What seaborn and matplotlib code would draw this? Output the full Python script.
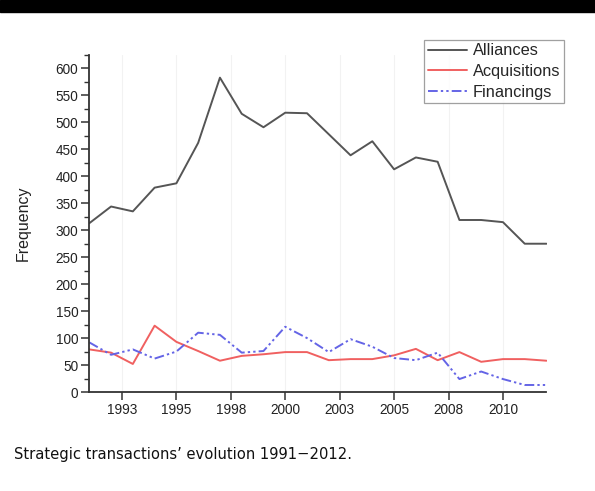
import matplotlib
matplotlib.use("Agg")
import matplotlib.pyplot as plt
import matplotlib.patches as mpatches
from matplotlib.ticker import MultipleLocator, FixedLocator
import seaborn as sns
import pandas as pd

years = list(range(1991, 2013))
alliances = [313, 344, 335, 379, 387, 462, 583, 516, 491, 518, 517, 478, 439, 465,
             413, 435, 427, 319, 319, 315, 275, 275]
acquisitions = [79, 73, 52, 123, 93, 76, 58, 67, 70, 74, 74, 59, 61, 61,
                68, 80, 59, 74, 56, 61, 61, 58]
financings = [92, 69, 79, 62, 75, 110, 106, 73, 76, 121, 100, 74, 98, 84,
              63, 59, 73, 24, 38, 24, 13, 13]
series_names = ["Alliances", "Acquisitions", "Financings"]
tick_positions = [1992.5, 1995, 1997.5, 2000, 2002.5, 2005, 2007.5, 2010]
tick_labels = ["1993", "1995", "1998", "2000", "2003", "2005", "2008", "2010"]
y_ticks = list(range(0, 601, 50))
caption = "Strategic transactions\u2019 evolution 1991\u22122012."

df = pd.DataFrame({
    "Year": years * 3,
    "Frequency": alliances + acquisitions + financings,
    "Series": [series_names[0]] * len(years) + [series_names[1]] * len(years)
              + [series_names[2]] * len(years),
})

sns.set_style("white")
plt.rcParams["font.family"] = ["Liberation Sans", "DejaVu Sans"]

fig = plt.figure(figsize=(5.95, 4.91), dpi=100)
ax = fig.add_axes([89.3 / 595, 1 - 392 / 491, (546.5 - 89.3) / 595, (392 - 55) / 491])

palette = {"Alliances": "#555555", "Acquisitions": "#f06060", "Financings": "#6464e6"}
dashes = {"Alliances": "", "Acquisitions": "", "Financings": (5, 1.6, 1.2, 1.6, 1.2, 1.6)}
sns.lineplot(data=df, x="Year", y="Frequency", hue="Series", style="Series",
             palette=palette, dashes=dashes, linewidth=1.4, ax=ax, legend=True)

ax.set_xlim(1991, 2012)
ax.set_ylim(0, 625)
ax.xaxis.set_major_locator(FixedLocator(tick_positions))
ax.set_xticklabels(tick_labels)
ax.set_yticks(y_ticks)
ax.yaxis.set_minor_locator(MultipleLocator(25))
ax.tick_params(axis="both", which="major", direction="out", length=6, width=1.1,
               labelsize=9.8, color="#333333", labelcolor="#222222", pad=2)
ax.tick_params(axis="y", which="minor", direction="out", length=3.5, width=1.0,
               color="#333333", left=True)
ax.tick_params(axis="x", bottom=True)
ax.tick_params(axis="y", left=True)
for s in ["top", "right"]:
    ax.spines[s].set_visible(False)
for s in ["left", "bottom"]:
    ax.spines[s].set_color("#333333")
    ax.spines[s].set_linewidth(1.3)
ax.grid(axis="x", color="#f2f2f2", linewidth=0.8)
ax.set_axisbelow(True)
ax.set_xlabel("")
ax.set_ylabel("Frequency", fontsize=11.5, color="#222222", labelpad=18)

handles, labels = ax.get_legend_handles_labels()
leg = ax.legend(handles, labels, loc="upper right",
                bbox_to_anchor=(563.5 / 595, 1 - 40 / 491), bbox_transform=fig.transFigure,
                fontsize=11.8, frameon=True, fancybox=False, handlelength=2.4,
                handletextpad=0.35, borderpad=0.2, labelspacing=0.35, borderaxespad=0)
leg.get_frame().set_edgecolor("#888888")
leg.get_frame().set_linewidth(0.9)

fig.patches.append(mpatches.Rectangle((0, 1 - 12 / 491), 1, 12 / 491,
                                      transform=fig.transFigure, color="black", zorder=0))
fig.text(14 / 595, 1 - 455 / 491, caption, fontsize=11.8, va="center", ha="left",
         family="DejaVu Sans", fontstretch="condensed", color="#111111")

fig.savefig("out.png", dpi=100)
